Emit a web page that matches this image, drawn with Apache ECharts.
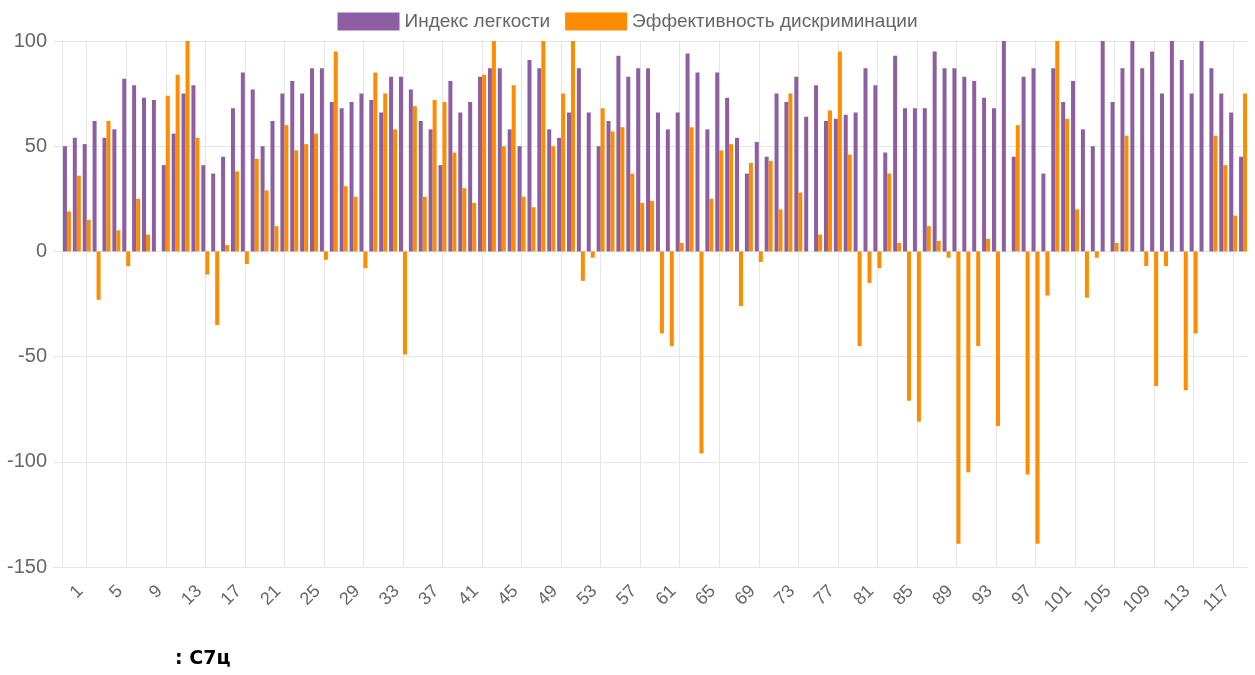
<!DOCTYPE html>
<html>
<head>
<meta charset="utf-8">
<title>Индекс легкости / Эффективность дискриминации</title>
<script src="https://cdn.jsdelivr.net/npm/echarts@6/dist/echarts.min.js"></script>
<style>
  html, body { margin: 0; padding: 0; background: #fff; }
  #chart { width: 1255px; height: 675px; }
</style>
</head>
<body>
<div id="chart"></div>
<script>
// номера заданий 1..120
const categories = [];
for (let i = 1; i <= 120; i++) categories.push(String(i));

// Индекс легкости
const easeIndex = [
  50, 54, 51, 62, 54, 58, 82, 79, 73, 72,
  41, 56, 75, 79, 41, 37, 45, 68, 85, 77,
  50, 62, 75, 81, 75, 87, 87, 71, 68, 71,
  75, 72, 66, 83, 83, 77, 62, 58, 41, 81,
  66, 71, 83, 87, 87, 58, 50, 91, 87, 58,
  54, 66, 87, 66, 50, 62, 93, 83, 87, 87,
  66, 58, 66, 94, 85, 58, 85, 73, 54, 37,
  52, 45, 75, 71, 83, 64, 79, 62, 63, 65,
  66, 87, 79, 47, 93, 68, 68, 68, 95, 87,
  87, 83, 81, 73, 68, 100, 45, 83, 87, 37,
  87, 71, 81, 58, 50, 100, 71, 87, 100, 87,
  95, 75, 100, 91, 75, 100, 87, 75, 66, 45
];

// Эффективность дискриминации
const discrimination = [
  19, 36, 15, -23, 62, 10, -7, 25, 8, 0,
  74, 84, 100, 54, -11, -35, 3, 38, -6, 44,
  29, 12, 60, 48, 51, 56, -4, 95, 31, 26,
  -8, 85, 75, 58, -49, 69, 26, 72, 71, 47,
  30, 23, 84, 100, 50, 79, 26, 21, 100, 50,
  75, 100, -14, -3, 68, 57, 59, 37, 23, 24,
  -39, -45, 4, 59, -96, 25, 48, 51, -26, 42,
  -5, 43, 20, 75, 28, 0, 8, 67, 95, 46,
  -45, -15, -8, 37, 4, -71, -81, 12, 5, -3,
  -139, -105, -45, 6, -83, 0, 60, -106, -139, -21,
  100, 63, 20, -22, -3, 0, 4, 55, 0, -7,
  -64, -7, 0, -66, -39, 0, 55, 41, 17, 75
];

const yTicks = [-150, -100, -50, 0, 50, 100];

const gridColor = '#e6e6e6';
const textColor = '#666';
// линии сетки — посередине между подписями (1|5 -> 3, 5|9 -> 7 ...)
const everyFourth = (idx) => idx % 4 === 2;

const myChart = echarts.init(document.getElementById('chart'));
const option = {
  animation: false,
  textStyle: { fontFamily: 'Liberation Sans, Arial, sans-serif' },
  legend: {
    top: 7,
    left: 'center',
    itemWidth: 62,
    itemHeight: 18,
    itemGap: 15,
    icon: 'rect',
    textStyle: { color: textColor, fontSize: 19 }
  },
  grid: {
    left: 62,
    right: 7,
    top: 41,
    bottom: 108
  },
  xAxis: {
    type: 'category',
    data: categories,
    boundaryGap: true,
    axisLine: { show: true, lineStyle: { color: gridColor } },
    axisTick: {
      show: true,
      interval: everyFourth,
      alignWithLabel: true,
      length: 12,
      lineStyle: { color: gridColor }
    },
    axisLabel: {
      interval: 3,
      rotate: 45,
      color: textColor,
      fontSize: 18,
      margin: 8,
      verticalAlign: 'top',
      padding: [10, 0, 0, 0]
    },
    splitLine: {
      show: true,
      interval: everyFourth,
      alignWithLabel: true,
      lineStyle: { color: gridColor }
    }
  },
  yAxis: {
    type: 'value',
    min: yTicks[0],
    max: yTicks[yTicks.length - 1],
    interval: 50,
    axisLine: { show: true, lineStyle: { color: gridColor } },
    axisTick: { show: true, length: 9, lineStyle: { color: gridColor } },
    axisLabel: { color: textColor, fontSize: 20, margin: 15 },
    splitLine: { show: true, lineStyle: { color: gridColor } }
  },
  series: [
    {
      name: 'Индекс легкости',
      type: 'bar',
      data: easeIndex,
      barWidth: 4,
      barGap: '0%',
      itemStyle: { color: '#8e5ea2' }
    },
    {
      name: 'Эффективность дискриминации',
      type: 'bar',
      data: discrimination,
      barWidth: 4,
      barGap: '0%',
      itemStyle: { color: '#ff8c00' }
    }
  ],
  graphic: [
    {
      type: 'text',
      left: 175,
      top: 650,
      style: {
        text: ': C7ц',
        fill: '#000',
        font: 'bold 19px "DejaVu Sans", sans-serif'
      }
    }
  ]
};
myChart.setOption(option);
window.addEventListener('resize', () => myChart.resize());
</script>
</body>
</html>
